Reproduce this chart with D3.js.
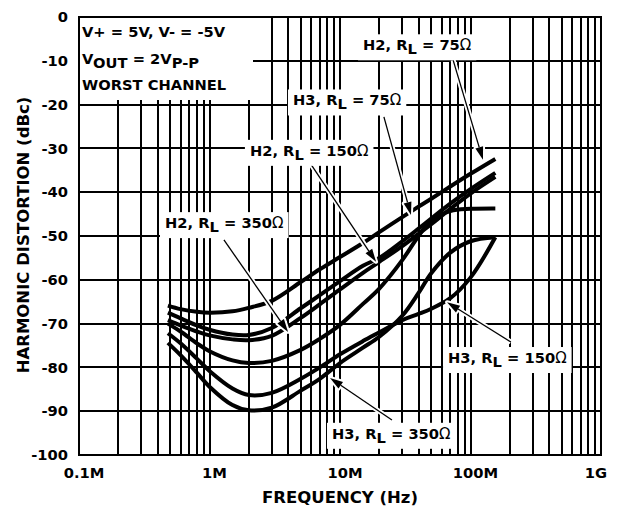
<!DOCTYPE html>
<html>
<head>
<meta charset="utf-8">
<script src="https://cdn.jsdelivr.net/npm/d3@7"></script>
<style>
  html, body { margin: 0; padding: 0; background: #fff; }
  text { font-family: "DejaVu Sans", sans-serif; font-weight: bold; fill: #000; }
</style>
</head>
<body>
<svg id="chart" width="618" height="508"></svg>
<script>
// frequency points (MHz) shared by every curve
var freqMHz = [0.48, 0.6, 0.8, 1, 1.5, 2, 3, 5, 7, 10, 15, 20, 30, 40, 50, 70, 100, 155];

// harmonic distortion, dBc
var h2_75  = [-65.9, -66.7, -67.3, -67.5, -67.2, -66.4, -64.8, -60.5, -57.6, -54.8, -51.6, -49.1, -45.7, -43.3, -41.5, -38.7, -35.8, -32.4];
var h2_150 = [-67.5, -68.8, -70.4, -71.4, -72.5, -72.6, -71.0, -66.5, -63.5, -60.3, -56.8, -55.0, -51.2, -48.3, -46.0, -42.6, -39.3, -35.6];
var h2_350 = [-69.2, -70.4, -71.8, -72.7, -73.6, -73.8, -72.8, -68.7, -65.6, -62.2, -58.4, -55.9, -52.3, -49.5, -47.3, -43.8, -40.3, -36.5];
var h3_75  = [-70.0, -71.8, -74.5, -76.3, -78.4, -79.0, -78.5, -76.0, -73.5, -70.3, -65.5, -62.0, -55.5, -50.0, -46.5, -44.3, -43.8, -43.7];
var h3_150 = [-72.2, -74.5, -78.0, -80.8, -84.8, -86.3, -85.8, -82.6, -80.0, -77.0, -74.0, -72.0, -69.2, -67.8, -66.6, -64.2, -59.5, -50.3];
var h3_350 = [-74.4, -77.2, -81.2, -84.4, -88.6, -89.8, -89.2, -85.3, -82.6, -79.0, -75.5, -73.0, -68.2, -63.0, -58.5, -53.8, -51.2, -50.3];

var allSeries = [h2_75, h2_150, h2_350, h3_75, h3_150, h3_350];

// axes
var xTicks = [0.1, 1, 10, 100, 1000];
var xTickLabels = ["0.1M", "1M", "10M", "100M", "1G"];
var yTicks = [0, -10, -20, -30, -40, -50, -60, -70, -80, -90, -100];

// callouts: [harmonic, load], label start, arrow tail, arrow tip (MHz, dBc)
var noteNames = [["H2", "75"], ["H3", "75"], ["H2", "150"], ["H2", "350"], ["H3", "150"], ["H3", "350"]];
var noteText  = [[15.0, -7.6], [4.36, -20.2], [2.04, -31.7], [0.456, -48.2], [67.3, -79.0], [8.68, -96.3]];
var noteTail  = [[73.5, -9.8], [21.7, -22.8], [5.89, -33.3], [1.29, -50.9], [204, -74.2], [25.0, -92.0]];
var noteTip   = [[124.6, -32.6], [35.0, -45.2], [18.9, -55.9], [4.0, -71.9], [66.1, -65.1], [8.38, -82.4]];

var svg = d3.select("#chart");
var x = d3.scaleLog().domain([0.1, 1000]).range([79, 601]);
var y = d3.scaleLinear().domain([-100, 0]).range([455, 17]);

// grid
var grid = svg.append("g").attr("stroke", "#000").attr("stroke-width", 2);
grid.selectAll(".vg").data(x.ticks()).enter().append("line")
    .attr("x1", function (d) { return Math.round(x(d)); })
    .attr("x2", function (d) { return Math.round(x(d)); })
    .attr("y1", y(0)).attr("y2", y(-100));
grid.selectAll(".hg").data(yTicks).enter().append("line")
    .attr("x1", x(0.1)).attr("x2", x(1000))
    .attr("y1", function (d) { return Math.round(y(d)); })
    .attr("y2", function (d) { return Math.round(y(d)); });

// curves
var line = d3.line()
    .x(function (d, i) { return x(freqMHz[i]); })
    .y(function (d) { return y(d); })
    .curve(d3.curveCatmullRom.alpha(0.5));
svg.append("g").selectAll("path").data(allSeries).enter().append("path")
    .attr("d", line)
    .attr("fill", "none").attr("stroke", "#000").attr("stroke-width", 4)
    .attr("stroke-linecap", "butt");

// arrows
function arrowGeom(i) {
    var sx = x(noteTail[i][0]), sy = y(noteTail[i][1]);
    var tx = x(noteTip[i][0]), ty = y(noteTip[i][1]);
    var dx = tx - sx, dy = ty - sy, len = Math.sqrt(dx * dx + dy * dy);
    var ux = dx / len, uy = dy / len, nx = -uy, ny = ux;
    var bx = tx - ux * 13, by = ty - uy * 13;
    return { sx: sx, sy: sy, bx: bx, by: by,
        head: [[tx, ty], [bx + nx * 4, by + ny * 4], [bx - nx * 4, by - ny * 4]] };
}
var arrows = noteNames.map(function (d, i) { return arrowGeom(i); });
var ag = svg.append("g");
arrows.forEach(function (a) {
    ag.append("line").attr("x1", a.sx).attr("y1", a.sy).attr("x2", a.bx).attr("y2", a.by)
        .attr("stroke", "#fff").attr("stroke-width", 5);
    ag.append("polygon").attr("points", a.head.join(" "))
        .attr("fill", "#fff").attr("stroke", "#fff").attr("stroke-width", 4).attr("stroke-linejoin", "round");
});
arrows.forEach(function (a) {
    ag.append("line").attr("x1", a.sx).attr("y1", a.sy).attr("x2", a.bx).attr("y2", a.by)
        .attr("stroke", "#000").attr("stroke-width", 1.3);
    ag.append("polygon").attr("points", a.head.join(" ")).attr("fill", "#000");
});

// callout labels
function labelText(g, px, py, n) {
    var t = g.append("text").attr("x", px).attr("y", py).style("font-size", "14.7px");
    t.append("tspan").text(n[0] + ", R");
    t.append("tspan").attr("dy", 4).text("L");
    t.append("tspan").attr("dy", -4).text(" = " + n[1]);
    t.append("tspan").style("font-weight", "normal").style("font-size", "15px").text("\u03A9");
    return t;
}
noteNames.forEach(function (n, i) {
    var g = svg.append("g");
    var t = labelText(g, x(noteText[i][0]), y(noteText[i][1]), n);
    var bb = t.node().getBBox();
    g.insert("rect", "text").attr("x", bb.x - 5).attr("y", bb.y - 2)
        .attr("width", bb.width + 10).attr("height", bb.height + 5).attr("fill", "#fff");
});

// conditions box
var cond = svg.append("g");
cond.append("rect").attr("x", x(0.1)).attr("y", y(0))
    .attr("width", 174).attr("height", 83).attr("fill", "#fff");
cond.append("text").attr("x", 82).attr("y", 37).style("font-size", "14.7px").text("V+ = 5V, V- = -5V");
var c2 = cond.append("text").attr("x", 82).attr("y", 64).style("font-size", "14.7px");
c2.append("tspan").text("V");
c2.append("tspan").attr("dy", 4).text("OUT");
c2.append("tspan").attr("dy", -4).text(" = 2V");
c2.append("tspan").attr("dy", 4).text("P-P");
cond.append("text").attr("x", 82).attr("y", 90).style("font-size", "14.7px").text("WORST CHANNEL");

// frame
svg.append("rect").attr("x", x(0.1)).attr("y", y(0))
    .attr("width", x(1000) - x(0.1)).attr("height", y(-100) - y(0))
    .attr("fill", "none").attr("stroke", "#000").attr("stroke-width", 2);

// tick labels
svg.append("g").selectAll("text").data(yTicks).enter().append("text")
    .attr("x", 68).attr("y", function (d) { return y(d); }).attr("dy", "0.36em")
    .attr("text-anchor", "end").style("font-size", "14.7px")
    .text(function (d) { return d; });
svg.append("g").selectAll("text").data(xTicks).enter().append("text")
    .attr("x", function (d) { return x(d) + 5; }).attr("y", 478)
    .attr("text-anchor", "middle").style("font-size", "14.7px")
    .text(function (d, i) { return xTickLabels[i]; })
    .each(function () {
        var bb = this.getBBox();
        if (bb.x + bb.width > 607) d3.select(this).attr("x", +d3.select(this).attr("x") - (bb.x + bb.width - 607));
    });

// axis titles
svg.append("text").attr("x", (x(0.1) + x(1000)) / 2).attr("y", 503)
    .attr("text-anchor", "middle").style("font-size", "16.5px").text("FREQUENCY (Hz)");
svg.append("text").attr("transform", "translate(29," + ((y(0) + y(-100)) / 2 - 1) + ") rotate(-90)")
    .attr("text-anchor", "middle").style("font-size", "16.5px").text("HARMONIC DISTORTION (dBc)");
</script>
</body>
</html>
